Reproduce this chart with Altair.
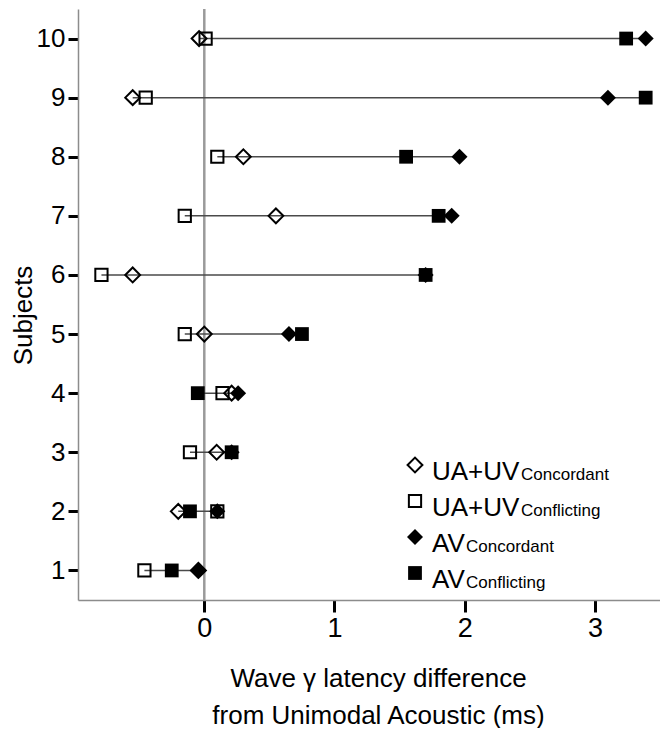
import altair as alt
import pandas as pd

# ---- data ----
subjects = [1, 2, 3, 4, 5, 6, 7, 8, 9, 10]
ua_uv_concordant = [-0.045, -0.20, 0.095, 0.21, 0.00, -0.55, 0.55, 0.30, -0.55, -0.04]
ua_uv_conflicting = [-0.46, 0.10, -0.11, 0.14, -0.15, -0.79, -0.15, 0.10, -0.45, 0.01]
av_concordant = [-0.05, 0.10, 0.21, 0.26, 0.65, 1.70, 1.90, 1.96, 3.10, 3.39]
av_conflicting = [-0.25, -0.11, 0.21, -0.05, 0.75, 1.70, 1.80, 1.55, 3.39, 3.24]

series_names = ["UA+UV Concordant", "UA+UV Conflicting", "AV Concordant", "AV Conflicting"]
legend_main = ["UA+UV", "UA+UV", "AV", "AV"]
legend_sub = ["Concordant", "Conflicting", "Concordant", "Conflicting"]
x_ticks = [0, 1, 2, 3]
y_ticks = subjects
x_title = ["Wave \u03b3 latency difference", "from Unimodal Acoustic (ms)"]
y_title = "Subjects"

series_values = [ua_uv_concordant, ua_uv_conflicting, av_concordant, av_conflicting]
rows = []
for name, vals in zip(series_names, series_values):
    for s, v in zip(subjects, vals):
        rows.append({"subject": s, "value": v, "series": name})
df = pd.DataFrame(rows)

FONT = "Liberation Sans"

xs = alt.Scale(domain=[-0.97, 3.5], nice=False, zero=False)
ys = alt.Scale(domain=[0.5, 10.5], nice=False, zero=False)

x_axis = alt.Axis(values=x_ticks, title=x_title, tickSize=12, labelPadding=3,
                  labelFontSize=27, titleFontSize=26, titlePadding=24,
                  titleLineHeight=37, titleX=300, format="d")
y_axis = alt.Axis(values=y_ticks, title=y_title, tickSize=10, labelPadding=3,
                  labelFontSize=26, titleFontSize=26, titlePadding=0,
                  titleY=306, format="d")

zero_line = alt.Chart(pd.DataFrame({"x": [0]})).mark_rule(
    color="#9a9a9a", strokeWidth=2.5
).encode(x=alt.X("x:Q", scale=xs, axis=x_axis))

ranges = alt.Chart(df).mark_rule(color="#4a4a4a", strokeWidth=1.5).encode(
    y=alt.Y("subject:Q", scale=ys, axis=y_axis),
    x=alt.X("min(value):Q", scale=xs, axis=x_axis),
    x2="max(value):Q",
)

styles = [
    dict(shape="diamond", filled=False, size=220, strokeWidth=2),
    dict(shape="square", filled=False, size=150, strokeWidth=2),
    dict(shape="diamond", filled=True, size=256, strokeWidth=0),
    dict(shape="square", filled=True, size=190, strokeWidth=0),
]

layers = [zero_line, ranges]
for name, st in zip(series_names, styles):
    layers.append(
        alt.Chart(df).transform_filter(alt.datum.series == name).mark_point(
            color="black", opacity=1, **st
        ).encode(
            x=alt.X("value:Q", scale=xs, axis=x_axis),
            y=alt.Y("subject:Q", scale=ys, axis=y_axis),
        )
    )

# ---- custom legend (subscript labels) ----
leg_x = 337
leg_y0 = 456
leg_dy = 36
for i in range(4):
    ldf = pd.DataFrame({"main": [legend_main[i]], "sub": [legend_sub[i]]})
    ybase = leg_y0 + leg_dy * i
    st = styles[i]
    layers.append(alt.Chart(ldf).mark_point(color="black", opacity=1, **st).encode(
        x=alt.value(leg_x), y=alt.value(ybase)))
    layers.append(alt.Chart(ldf).mark_text(
        align="left", baseline="alphabetic", fontSize=26, font=FONT, color="black"
    ).encode(x=alt.value(leg_x + 17), y=alt.value(ybase + 15), text="main:N"))
    sub_x = leg_x + 106 if legend_main[i] == "UA+UV" else leg_x + 51
    layers.append(alt.Chart(ldf).mark_text(
        align="left", baseline="alphabetic", fontSize=17, font=FONT, color="black"
    ).encode(x=alt.value(sub_x), y=alt.value(ybase + 15), text="sub:N"))

chart = alt.layer(*layers).properties(
    width=582, height=591,
    autosize=alt.AutoSizeParams(type="none"),
    padding={"left": 70, "top": 1, "right": 0, "bottom": 128},
).configure_view(stroke=None).configure_axis(
    grid=False,
    domainColor="#8c8c8c", domainWidth=1.5,
    tickColor="black", tickWidth=3,
    labelColor="black", labelFont=FONT,
    titleFont=FONT, titleFontWeight="normal", titleColor="black",
)

chart.save("out.html", embed_options={"renderer": "svg", "actions": False})
